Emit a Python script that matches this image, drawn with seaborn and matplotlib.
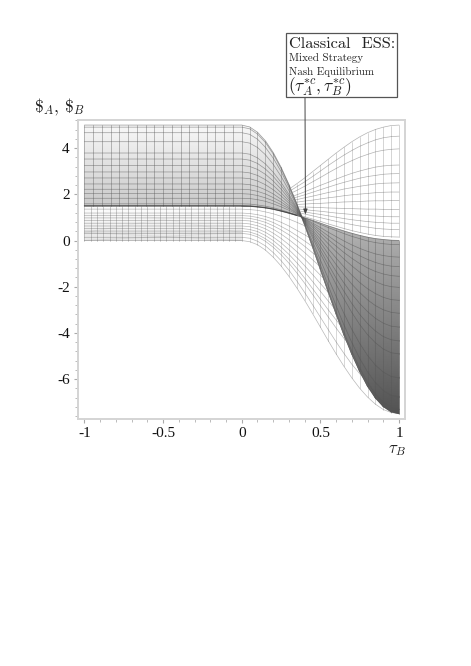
import numpy as np
import matplotlib
matplotlib.use("Agg")
import matplotlib.pyplot as plt
from matplotlib.colors import LinearSegmentedColormap, Normalize
from matplotlib.ticker import MultipleLocator, FixedLocator, FixedFormatter
import seaborn as sns

# tau_B positions of the mesh columns on the right-hand side
tau_b = [0, .05, .1, .15, .2, .25, .3, .35, .4, .45, .5, .55, .6, .65, .7, .75, .8, .85, .9, .95, 1]

# upper sheet: curves leaving the 1.5..5 band
sheet_upper = [
 [1.50,1.49,1.46,1.42,1.36,1.28,1.19,1.09,.98,.87,.75,.63,.52,.41,.31,.22,.14,.08,.04,.01,.00],
 [1.59,1.58,1.54,1.49,1.42,1.33,1.22,1.10,.97,.84,.70,.56,.43,.30,.18,.08,-.02,-.09,-.14,-.17,-.18],
 [1.83,1.82,1.77,1.70,1.59,1.46,1.31,1.14,.95,.76,.56,.36,.17,-.02,-.19,-.34,-.47,-.58,-.65,-.70,-.72],
 [2.03,2.01,1.95,1.85,1.72,1.56,1.38,1.17,.94,.70,.45,.20,-.04,-.27,-.48,-.66,-.82,-.95,-1.05,-1.11,-1.13],
 [2.22,2.20,2.13,2.02,1.86,1.67,1.44,1.19,.92,.63,.34,.04,-.24,-.52,-.77,-1.00,-1.19,-1.34,-1.45,-1.52,-1.55],
 [2.45,2.42,2.34,2.20,2.02,1.79,1.52,1.23,.90,.56,.21,-.14,-.48,-.80,-1.10,-1.37,-1.60,-1.78,-1.92,-2.00,-2.03],
 [2.71,2.68,2.58,2.42,2.20,1.93,1.62,1.26,.88,.47,.06,-.36,-.76,-1.14,-1.50,-1.82,-2.09,-2.30,-2.46,-2.56,-2.59],
 [2.97,2.93,2.82,2.64,2.39,2.07,1.71,1.30,.86,.39,-.09,-.57,-1.04,-1.48,-1.89,-2.25,-2.57,-2.82,-3.00,-3.11,-3.15],
 [3.25,3.21,3.08,2.87,2.58,2.23,1.81,1.34,.83,.30,-.25,-.80,-1.33,-1.84,-2.31,-2.73,-3.08,-3.37,-3.58,-3.71,-3.75],
 [3.53,3.48,3.34,3.10,2.78,2.38,1.91,1.38,.81,.21,-.41,-1.03,-1.63,-2.20,-2.73,-3.20,-3.60,-3.92,-4.16,-4.30,-4.35],
 [3.79,3.74,3.58,3.32,2.96,2.52,2.00,1.42,.79,.12,-.56,-1.24,-1.90,-2.53,-3.12,-3.64,-4.08,-4.43,-4.70,-4.86,-4.91],
 [4.28,4.22,4.03,3.72,3.30,2.78,2.17,1.49,.74,-.04,-.84,-1.64,-2.42,-3.16,-3.85,-4.46,-4.98,-5.40,-5.70,-5.89,-5.95],
 [4.67,4.60,4.39,4.04,3.57,2.99,2.31,1.54,.71,-.16,-1.06,-1.95,-2.83,-3.66,-4.42,-5.11,-5.69,-6.16,-6.50,-6.71,-6.78],
 [4.91,4.84,4.61,4.25,3.75,3.12,2.39,1.58,.69,-.24,-1.20,-2.16,-3.09,-3.98,-4.80,-5.53,-6.15,-6.65,-7.02,-7.24,-7.32],
 [5.00,4.92,4.69,4.32,3.81,3.17,2.42,1.59,.68,-.27,-1.25,-2.23,-3.18,-4.09,-4.92,-5.67,-6.31,-6.82,-7.19,-7.42,-7.50],
]

# lower sheet: curves leaving the 0..1.5 band
sheet_lower = [
 [0,-.05,-.18,-.41,-.72,-1.10,-1.55,-2.05,-2.59,-3.16,-3.75,-4.34,-4.91,-5.45,-5.95,-6.40,-6.78,-7.09,-7.32,-7.45,-7.50],
 [.14,.10,-.03,-.23,-.52,-.87,-1.28,-1.75,-2.25,-2.78,-3.32,-3.86,-4.39,-4.89,-5.36,-5.77,-6.12,-6.41,-6.61,-6.74,-6.78],
 [.31,.27,.16,-.03,-.29,-.61,-.98,-1.40,-1.85,-2.33,-2.82,-3.31,-3.79,-4.24,-4.66,-5.04,-5.36,-5.61,-5.80,-5.92,-5.95],
 [.41,.37,.26,.08,-.16,-.46,-.81,-1.20,-1.63,-2.08,-2.54,-3.00,-3.44,-3.87,-4.26,-4.61,-4.91,-5.15,-5.33,-5.44,-5.48],
 [.52,.48,.39,.22,0,-.28,-.60,-.96,-1.36,-1.77,-2.20,-2.62,-3.03,-3.43,-3.79,-4.11,-4.39,-4.61,-4.78,-4.88,-4.91],
 [.63,.60,.51,.36,.15,-.10,-.40,-.73,-1.09,-1.47,-1.86,-2.25,-2.63,-2.99,-3.32,-3.62,-3.87,-4.08,-4.23,-4.32,-4.35],
 [.75,.72,.64,.51,.32,.09,-.18,-.48,-.80,-1.15,-1.50,-1.85,-2.20,-2.52,-2.82,-3.09,-3.32,-3.50,-3.64,-3.72,-3.75],
 [.87,.85,.77,.65,.49,.28,.04,-.23,-.52,-.83,-1.14,-1.45,-1.76,-2.05,-2.32,-2.56,-2.77,-2.93,-3.05,-3.13,-3.15],
 [.98,.96,.89,.79,.64,.46,.25,.01,-.25,-.53,-.80,-1.08,-1.36,-1.62,-1.85,-2.07,-2.25,-2.40,-2.50,-2.57,-2.59],
 [1.08,1.06,1.00,.91,.78,.61,.43,.21,-.02,-.26,-.51,-.76,-1.00,-1.23,-1.44,-1.63,-1.80,-1.93,-2.02,-2.08,-2.10],
 [1.19,1.17,1.12,1.04,.93,.79,.63,.44,.25,.04,-.18,-.39,-.60,-.80,-.98,-1.15,-1.28,-1.40,-1.48,-1.53,-1.55],
 [1.36,1.34,1.31,1.24,1.16,1.05,.93,.79,.64,.48,.32,.16,0,-.15,-.29,-.41,-.52,-.60,-.67,-.70,-.72],
]

# wing sheet: curves fanning out of 1.5 towards 0..5 at tau_B = 1
sheet_wing = [
 [1.50,1.49,1.47,1.43,1.37,1.30,1.22,1.13,1.03,.93,.83,.72,.62,.52,.43,.35,.28,.22,.18,.16,.15],
 [1.50,1.49,1.47,1.44,1.40,1.35,1.29,1.22,1.15,1.07,.99,.91,.83,.76,.69,.63,.58,.53,.50,.48,.48],
 [1.50,1.50,1.48,1.46,1.43,1.39,1.35,1.30,1.24,1.18,1.13,1.07,1.01,.95,.90,.86,.82,.79,.77,.75,.75],
 [1.50,1.50,1.49,1.47,1.46,1.43,1.40,1.37,1.34,1.30,1.27,1.23,1.19,1.16,1.13,1.10,1.08,1.06,1.04,1.03,1.03],
 [1.50,1.50,1.50,1.49,1.49,1.48,1.47,1.46,1.45,1.44,1.43,1.41,1.40,1.39,1.38,1.37,1.36,1.36,1.35,1.35,1.35],
 [1.50,1.50,1.51,1.51,1.52,1.53,1.55,1.56,1.58,1.60,1.61,1.63,1.65,1.67,1.68,1.69,1.71,1.72,1.72,1.73,1.73],
 [1.50,1.50,1.51,1.53,1.56,1.59,1.62,1.66,1.71,1.75,1.80,1.85,1.89,1.94,1.98,2.01,2.04,2.07,2.09,2.10,2.10],
 [1.50,1.51,1.52,1.55,1.60,1.65,1.71,1.77,1.85,1.92,2.00,2.08,2.15,2.23,2.29,2.35,2.40,2.45,2.48,2.49,2.50],
 [1.50,1.51,1.53,1.58,1.63,1.70,1.79,1.88,1.98,2.09,2.20,2.31,2.42,2.52,2.61,2.70,2.77,2.82,2.87,2.89,2.90],
 [1.50,1.51,1.54,1.60,1.67,1.76,1.87,1.98,2.11,2.25,2.39,2.52,2.66,2.79,2.91,3.01,3.10,3.18,3.23,3.26,3.27],
 [1.50,1.52,1.56,1.63,1.74,1.86,2.01,2.17,2.35,2.54,2.73,2.93,3.12,3.30,3.46,3.61,3.73,3.84,3.91,3.95,3.97],
 [1.50,1.52,1.57,1.66,1.79,1.94,2.12,2.33,2.54,2.77,3.01,3.25,3.48,3.70,3.90,4.08,4.23,4.36,4.45,4.50,4.52],
 [1.50,1.52,1.59,1.69,1.83,2.01,2.22,2.46,2.71,2.98,3.25,3.52,3.79,4.04,4.28,4.49,4.67,4.81,4.91,4.98,5.00],
]

# verticals of the flat part (tau_B < 0)
upper_verticals = [-1,-.944,-.889,-.833,-.778,-.722,-.667,-.611,-.556,-.5,-.444,-.389,-.333,-.278,-.222,-.167,-.111,-.056,0]
lower_verticals = [-1,-.96,-.92,-.88,-.84,-.8,-.76,-.72,-.68,-.64,-.6,-.56,-.52,-.48,-.44,-.4,-.36,-.32,-.28,-.24,-.2,-.16,-.12,-.08,-.04,0]

x_ticks = [-1, -.5, 0, .5, 1]
x_labels = ["-1", "-0.5", "0", "0.5", "1"]
y_ticks = [-6, -4, -2, 0, 2, 4]
y_labels = ["-6", "-4", "-2", "0", "2", "4"]

sns.set_theme(style="white")
plt.rcParams["axes.unicode_minus"] = False
plt.rcParams["mathtext.fontset"] = "cm"

W, H = 471, 666
fig = plt.figure(figsize=(W / 100, H / 100), dpi=100)
ax = fig.add_axes([78 / W, 1 - 419 / H, (405 - 78) / W, (419 - 120) / H])

LINE = "#555555"
def curve(x, y, z, lw=0.5, alpha=0.5, color=LINE):
    sns.lineplot(x=np.asarray(x, float), y=np.asarray(y, float), ax=ax, color=color, lw=lw,
                 alpha=alpha, zorder=z, estimator=None, sort=False, errorbar=None)

tb = np.array(tau_b, float)
xfull = np.r_[-1.0, tb]
A = np.array(sheet_upper)
B = np.array(sheet_lower)
Wg = np.array(sheet_wing)

# wing sits behind the upper sheet
for row in Wg:
    curve(tb, row, 1, alpha=0.45)
for j in range(1, len(tb)):
    curve([tb[j]] * len(Wg), Wg[:, j], 1, alpha=0.35)

# lower sheet
for row in B:
    curve(xfull, np.r_[row[0], row], 2, alpha=0.42)
for j in range(1, len(tb)):
    curve([tb[j]] * (len(B) + 1), np.r_[B[:, j], A[0, j]], 2, alpha=0.32)
for v in lower_verticals:
    curve([v, v], [B[0, 0], A[0, 0]], 2, alpha=0.42)

# soft shading of the lower flat band
bx, by = np.meshgrid([-1.0, 0.0], [0.0, 0.35, 1.5])
ax.pcolormesh(bx, by, by, shading="gouraud", cmap="gray",
              norm=Normalize(-4.0, 1.5), alpha=0.35, zorder=0.5)

# shaded upper sheet
cmap = LinearSegmentedColormap.from_list("sheet", [(0, "#525252"), (.6, "#ababab"), (.72, "#c9c9c9"), (1, "#f7f7f7")])
X = np.tile(xfull, (len(A), 1))
Y = np.c_[A[:, 0], A]
ax.pcolormesh(X, Y, Y, shading="gouraud", cmap=cmap, norm=Normalize(-7.5, 5), zorder=3)
for row in A:
    curve(xfull, np.r_[row[0], row], 4, alpha=0.55)
for j in range(1, len(tb)):
    curve([tb[j]] * len(A), A[:, j], 4, alpha=0.5)
for v in upper_verticals:
    curve([v, v], [A[0, 0], A[-1, 0]], 4, alpha=0.55)
# the dark ridge along 1.5 stops at the crossing
curve(xfull[:9], np.r_[A[0, 0], A[0]][:9], 5, lw=0.9, alpha=0.75, color="#333333")

ax.set_xlim(-1.041, 1.038)
ax.set_ylim(-7.73, 5.22)
ax.xaxis.set_major_locator(FixedLocator(x_ticks))
ax.xaxis.set_major_formatter(FixedFormatter(x_labels))
ax.yaxis.set_major_locator(FixedLocator(y_ticks))
ax.yaxis.set_major_formatter(FixedFormatter(y_labels))
ax.xaxis.set_minor_locator(MultipleLocator(0.1))
ax.yaxis.set_minor_locator(MultipleLocator(0.4))
ax.tick_params(axis="both", which="major", length=3, width=0.8, color="#aaaaaa",
               labelsize=11, labelcolor="#111111", pad=3, left=True, bottom=True)
ax.tick_params(axis="both", which="minor", length=2, width=0.7, color="#bbbbbb", left=True, bottom=True)
for lab in ax.get_xticklabels() + ax.get_yticklabels():
    lab.set_family("Liberation Serif")
for sp in ax.spines.values():
    sp.set_color("#d4d4d4")
    sp.set_linewidth(1.4)

def px(x, y):
    return x / W, 1 - y / H

fig.text(*px(34, 107), r"$\$_A,\,\$_B$", fontsize=12.5, color="#222222", va="center", ha="left")
fig.text(*px(388, 449), r"$\tau_B$", fontsize=12, color="#222222", va="center", ha="left")

# annotation box and its arrow
ax.annotate("", xy=(0.405, 1.13), xycoords="data", xytext=px(305, 97), textcoords="figure fraction",
            arrowprops=dict(arrowstyle="-|>,head_width=0.1,head_length=0.25", color="#444444", lw=0.7,
                            shrinkA=0, shrinkB=0), zorder=8, annotation_clip=False)
box = plt.Rectangle(px(286, 97), 111 / W, 64 / H, transform=fig.transFigure, facecolor="white",
                    edgecolor="#555555", lw=0.9, zorder=9)
fig.add_artist(box)
fig.text(*px(289, 44), "Classical  ESS:", family="cmr10", fontsize=11.8, color="#222222", va="center", zorder=10)
fig.text(*px(289, 58), "Mixed Strategy", family="cmr10", fontsize=7.9, color="#222222", va="center", zorder=10)
fig.text(*px(289, 72), "Nash Equilibrium", family="cmr10", fontsize=7.9, color="#222222", va="center", zorder=10)
fig.text(*px(288, 87), r"$(\tau_A^{*c},\tau_B^{*c})$", fontsize=12.5, color="#222222", va="center", zorder=10)

fig.savefig("out.png", dpi=100)
